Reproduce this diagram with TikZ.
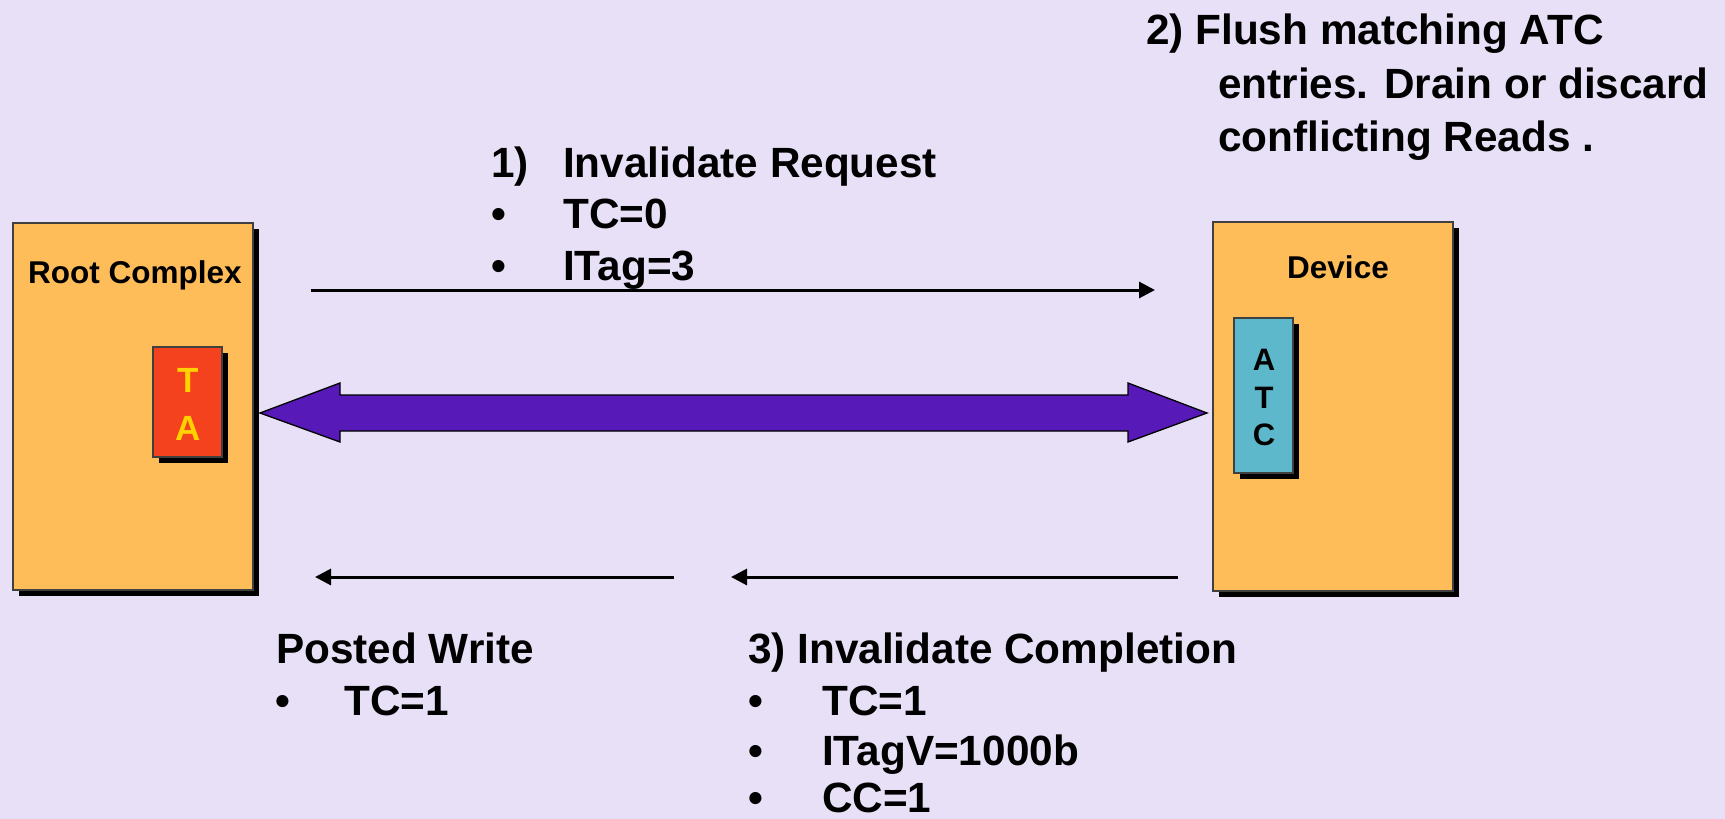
\documentclass[tikz,border=0pt]{standalone}
\usepackage{fontspec}
\setmainfont{Liberation Sans}
\usetikzlibrary{shadows,arrows.meta}

\definecolor{bg}{HTML}{E8E0F6}
\definecolor{boxorange}{HTML}{FFBD59}
\definecolor{tared}{HTML}{F5421E}
\definecolor{atcteal}{HTML}{5EB8CB}
\definecolor{buspurple}{HTML}{5719B8}
\definecolor{tayellow}{HTML}{FFD200}

\tikzset{
  shadowed/.style={drop shadow={shadow xshift=5.5pt, shadow yshift=-5.5pt, opacity=1, fill=black}},
  block/.style={draw=black!75, line width=1.3pt, fill=boxorange, inner sep=0pt, shadowed},
  unit/.style={draw=black!75, line width=1.3pt, inner sep=0pt, shadowed},
  blocklabel/.style={font=\fontsize{31.5}{36}\selectfont\bfseries, anchor=base, inner sep=0pt},
  letter/.style={font=\fontsize{#1}{36}\selectfont\bfseries, anchor=center, inner sep=0pt},
  txt/.style={font=\fontsize{42.3}{50}\selectfont\bfseries, anchor=base west, inner sep=0pt},
  dot/.style={font=\fontsize{42.3}{50}\selectfont\bfseries, anchor=base, inner sep=0pt},
  msg/.style={line width=3pt, -{Triangle[length=16pt,width=16pt]}},
  bus/.style={fill=buspurple, draw=black, line width=1.3pt, line join=miter},
}

\begin{document}
\begin{tikzpicture}[x=1pt,y=-1pt]
  \useasboundingbox (0,0) rectangle (1725,819);
  \fill[bg] (0,0) rectangle (1725,819);

  % endpoints
  \node[block, minimum width=240pt, minimum height=367pt] (rc) at (133,406.5) {};
  \node[blocklabel] (rclabel) at (135,283) {Root Complex};
  \node[unit, fill=tared, minimum width=69pt, minimum height=110pt] (ta) at (187.5,402) {};
  \node[letter=35, text=tayellow] (taT) at (188,380) {T};
  \node[letter=35, text=tayellow] (taA) at (188,428) {A};

  \node[block, minimum width=240pt, minimum height=369pt] (dev) at (1333,406.5) {};
  \node[blocklabel] (devlabel) at (1338,278) {Device};
  \node[unit, fill=atcteal, minimum width=59pt, minimum height=155pt] (atc) at (1263.5,395.5) {};
  \node[letter=31] (atcA) at (1264,360) {A};
  \node[letter=31] (atcT) at (1264,398) {T};
  \node[letter=31] (atcC) at (1264,435) {C};

  % link between the two endpoints
  \coordinate (busL) at (260,413);
  \coordinate (busR) at (1207,413);
  \draw[bus] (busL) -- ++(80,-30) -- ++(0,12) -- ++(788,0) -- ++(0,-12) -- (busR)
    -- ++(-79,29) -- ++(0,-11) -- ++(-788,0) -- ++(0,11) -- cycle;

  % transactions
  \coordinate (reqS) at (311,290);
  \coordinate (reqE) at (1155,290);
  \draw[msg] (reqS) -- (reqE);

  \coordinate (cplS) at (1178,577);
  \coordinate (cplE) at (731,577);
  \draw[msg] (cplS) -- (cplE);

  \coordinate (pwS) at (674,577);
  \coordinate (pwE) at (315,577);
  \draw[msg] (pwS) -- (pwE);

  % step 1
  \node[txt] (s1n) at (491,177) {1)};
  \node[txt] (s1) at (563,177) {Invalidate Request};
  \node[dot] (s1b1) at (499,228) {•};
  \node[txt] (s1t1) at (563,228) {TC=0};
  \node[dot] (s1b2) at (499,280) {•};
  \node[txt] (s1t2) at (563,280) {ITag=3};

  % step 2
  \node[txt] (s2a) at (1146,45) {2) Flush matching ATC};
  \node[txt] (s2b) at (1218,98) {entries. Drain or discard};
  \node[txt] (s2c) at (1218,151) {conflicting Reads .};

  % posted write
  \node[txt] (pw) at (276,663) {Posted Write};
  \node[dot] (pwb) at (283,715) {•};
  \node[txt] (pwt) at (344,715) {TC=1};

  % step 3
  \node[txt] (s3) at (748,663) {3) Invalidate Completion};
  \node[dot] (s3b1) at (756,715) {•};
  \node[txt] (s3t1) at (822,715) {TC=1};
  \node[dot] (s3b2) at (756,765) {•};
  \node[txt] (s3t2) at (822,765) {ITagV=1000b};
  \node[dot] (s3b3) at (756,812) {•};
  \node[txt] (s3t3) at (822,812) {CC=1};
\end{tikzpicture}
\end{document}
